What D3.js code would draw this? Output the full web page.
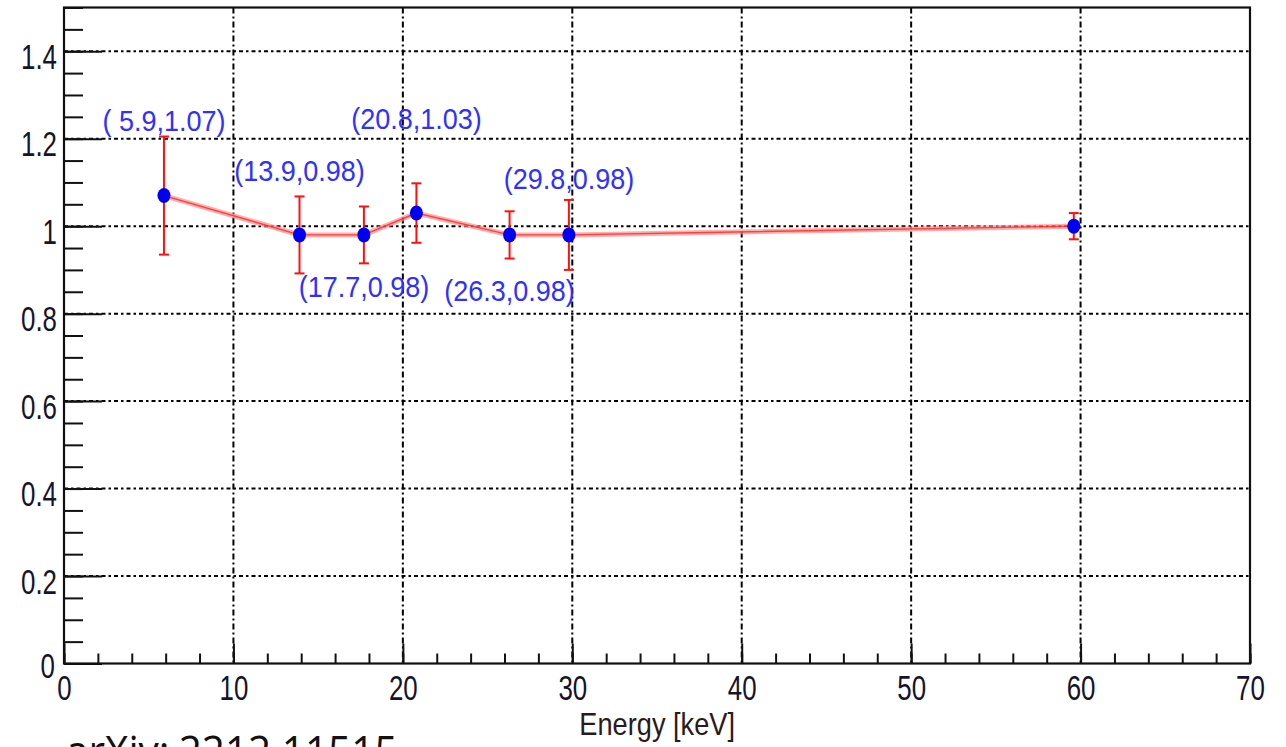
<!DOCTYPE html>
<html>
<head>
<meta charset="utf-8">
<script src="https://cdn.jsdelivr.net/npm/d3@7"></script>
<style>
  html, body { margin: 0; padding: 0; background: #fff; }
  svg { display: block; }
</style>
</head>
<body>
<svg id="chart" width="1286" height="747"></svg>
<script>
// Measured response ratio versus photon energy
const energies   = [5.9, 13.9, 17.7, 20.8, 26.3, 29.8, 59.6];
const ratios     = [1.07, 0.98, 0.98, 1.03, 0.98, 0.98, 1.00];
const ratioErrs  = [0.135, 0.088, 0.065, 0.068, 0.054, 0.080, 0.030];
const pointLabels = ["( 5.9,1.07)", "(13.9,0.98)", "(17.7,0.98)", "(20.8,1.03)", "(26.3,0.98)", "(29.8,0.98)", ""];
const xTickValues = [0, 10, 20, 30, 40, 50, 60, 70];
const yTickValues = [0, 0.2, 0.4, 0.6, 0.8, 1, 1.2, 1.4];
const yTickLabels = ["0", "0.2", "0.4", "0.6", "0.8", "1", "1.2", "1.4"];

// label placement (pixel offset of each label's baseline from its point)
const labelDy = [-65, -54, 62, -84, 66, -46, 0];

const svg = d3.select("#chart");
const W = 1286, H = 747;
svg.append("rect").attr("width", W).attr("height", H).attr("fill", "#fff");

const plot = { left: 64, right: 1250, top: 7.5, bottom: 663.5 };
const x = d3.scaleLinear().domain([0, 70]).range([plot.left, plot.right]);
const y = d3.scaleLinear().domain([0, 1.5]).range([plot.bottom, plot.top]);

const tickFont = "'Liberation Sans', Arial, sans-serif";
const tickColor = "#14142a";

// grid
const grid = svg.append("g");
grid.selectAll("line.gx").data(xTickValues.filter(v => v > 0 && v < 70)).join("line")
  .attr("x1", d => x(d)).attr("x2", d => x(d))
  .attr("y1", plot.top).attr("y2", plot.bottom)
  .attr("stroke", "#000").attr("stroke-width", 2)
  .attr("stroke-dasharray", "6,3,2,3");
grid.selectAll("line.gy").data(yTickValues.filter(v => v > 0)).join("line")
  .attr("x1", plot.left).attr("x2", plot.right)
  .attr("y1", d => y(d)).attr("y2", d => y(d))
  .attr("stroke", "#000").attr("stroke-width", 2)
  .attr("stroke-dasharray", "4,3,2.5,3");

// y axis: major + minor ticks pointing inward
const yMinor = d3.range(0, 1.5001, 0.05).map(v => +v.toFixed(2));
const yMinorAxis = d3.axisLeft(y).tickValues(yMinor).tickSizeInner(-19).tickSizeOuter(0).tickFormat("");
svg.append("g").attr("transform", `translate(${plot.left},0)`).call(yMinorAxis)
  .call(g => g.select(".domain").remove())
  .call(g => g.selectAll("line").attr("stroke", "#111").attr("stroke-width", 2));

const yAxis = d3.axisLeft(y).tickValues(yTickValues).tickSizeInner(-38).tickSizeOuter(0)
  .tickFormat((d, i) => yTickLabels[i]);
svg.append("g").attr("transform", `translate(${plot.left},0)`).call(yAxis)
  .call(g => g.select(".domain").remove())
  .call(g => g.selectAll("line").attr("stroke", "#111").attr("stroke-width", 2))
  .call(g => g.selectAll("text")
    .attr("x", 0).attr("y", 0).attr("dy", null)
    .attr("transform", d => d === 0 ? "translate(-9,14) scale(0.74,1)" : "translate(-7,17) scale(0.74,1)")
    .attr("font-family", tickFont).attr("font-size", 35).attr("fill", tickColor));

// x axis: major + minor ticks pointing inward
const xMinor = d3.range(0, 70.001, 2);
const xMinorAxis = d3.axisBottom(x).tickValues(xMinor).tickSizeInner(-10).tickSizeOuter(0).tickFormat("");
svg.append("g").attr("transform", `translate(0,${plot.bottom})`).call(xMinorAxis)
  .call(g => g.select(".domain").remove())
  .call(g => g.selectAll("line").attr("stroke", "#111").attr("stroke-width", 2));

const xAxis = d3.axisBottom(x).tickValues(xTickValues).tickSizeInner(-20).tickSizeOuter(0).tickFormat(d3.format("d"));
svg.append("g").attr("transform", `translate(0,${plot.bottom})`).call(xAxis)
  .call(g => g.select(".domain").remove())
  .call(g => g.selectAll("line").attr("stroke", "#111").attr("stroke-width", 2))
  .call(g => g.selectAll("text")
    .attr("x", 0).attr("y", 0).attr("dy", null)
    .attr("transform", "translate(0,36) scale(0.74,1)")
    .attr("font-family", tickFont).attr("font-size", 35).attr("fill", tickColor));

// frame
svg.append("rect")
  .attr("x", plot.left).attr("y", plot.top)
  .attr("width", plot.right - plot.left).attr("height", plot.bottom - plot.top)
  .attr("fill", "none").attr("stroke", "#111").attr("stroke-width", 2.2);

// axis title
svg.append("text")
  .attr("transform", "translate(735,735) scale(0.85,1)")
  .attr("text-anchor", "end")
  .attr("font-family", tickFont).attr("font-size", 32).attr("fill", "#2a1a1a")
  .text("Energy [keV]");

// data
const pts = energies.map((e, i) => ({ e, r: ratios[i], err: ratioErrs[i], label: pointLabels[i], dy: labelDy[i] }));

const line = d3.line().x(d => x(d.e)).y(d => y(d.r));
svg.append("path").datum(pts).attr("d", line)
  .attr("fill", "none").attr("stroke", "#ff8a8a").attr("stroke-opacity", 0.7).attr("stroke-width", 5);
svg.append("path").datum(pts).attr("d", line)
  .attr("fill", "none").attr("stroke", "#ff1a1a").attr("stroke-opacity", 0.75).attr("stroke-width", 1.4);

const errG = svg.append("g").attr("stroke", "#ff1010").attr("stroke-width", 2);
errG.selectAll("line.bar").data(pts).join("line")
  .attr("x1", d => x(d.e)).attr("x2", d => x(d.e))
  .attr("y1", d => y(d.r + d.err)).attr("y2", d => y(d.r - d.err));
errG.selectAll("line.top").data(pts).join("line")
  .attr("x1", d => x(d.e) - 5).attr("x2", d => x(d.e) + 5)
  .attr("y1", d => y(d.r + d.err)).attr("y2", d => y(d.r + d.err));
errG.selectAll("line.bot").data(pts).join("line")
  .attr("x1", d => x(d.e) - 5).attr("x2", d => x(d.e) + 5)
  .attr("y1", d => y(d.r - d.err)).attr("y2", d => y(d.r - d.err));

svg.append("g").selectAll("ellipse").data(pts).join("ellipse")
  .attr("cx", d => x(d.e)).attr("cy", d => y(d.r))
  .attr("rx", 6.5).attr("ry", 7.5)
  .attr("fill", "#0000f0");

svg.append("g").selectAll("text").data(pts.filter(d => d.label)).join("text")
  .attr("transform", d => `translate(${x(d.e)},${y(d.r) + d.dy}) scale(0.9,1)`)
  .attr("text-anchor", "middle")
  .attr("font-family", tickFont).attr("font-size", 30).attr("fill", "#3030ff")
  .text(d => d.label);

// source reference along the bottom edge
const src = svg.append("text")
  .attr("transform", "translate(66,767) scale(0.92,1)")
  .attr("font-family", "'Open Sans', sans-serif").attr("font-size", 44).attr("fill", "#111");
src.append("tspan").text("arXiv:");
src.append("tspan").attr("dx", 10).text("2212.11515");
</script>
</body>
</html>
